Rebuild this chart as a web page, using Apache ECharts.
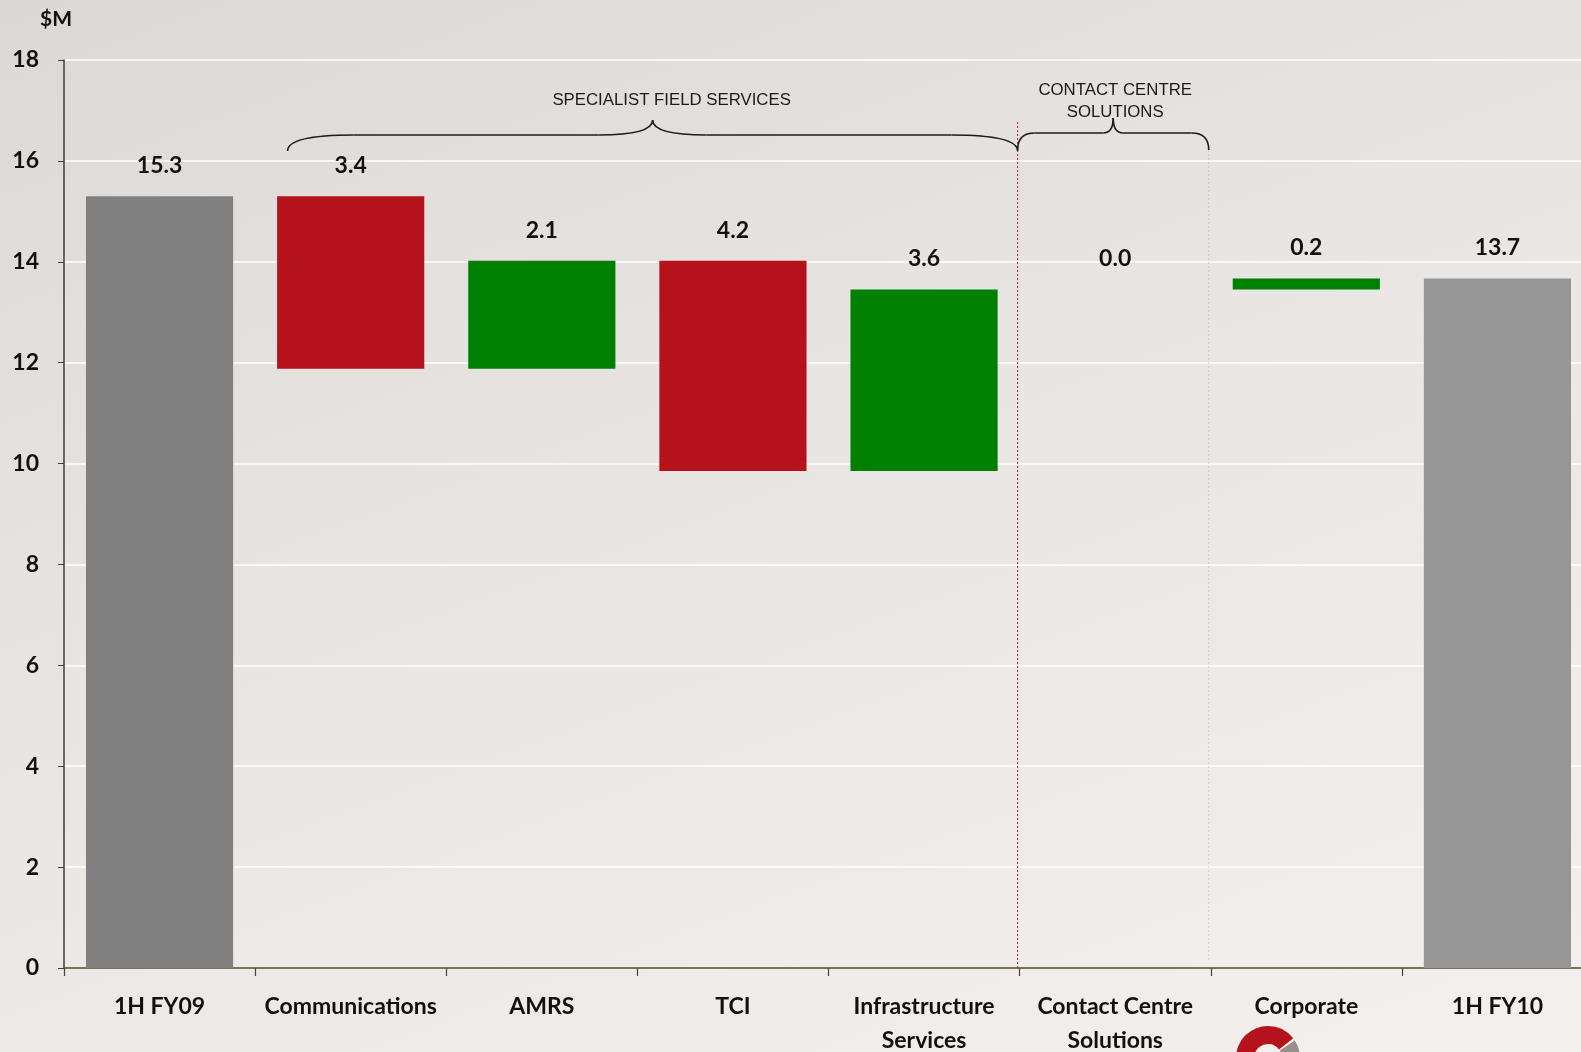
<!DOCTYPE html>
<html>
<head>
<meta charset="utf-8">
<script src="https://cdn.jsdelivr.net/npm/echarts@6/dist/echarts.min.js"></script>
<style>
html,body{margin:0;padding:0;width:100%;height:100%;overflow:hidden;background:#e8e4e2;}
#chart{width:1593px;height:1052px;background:linear-gradient(160deg,#dcd8d5 0%,#e9e5e3 45%,#f3f0ef 100%);}
</style>
</head>
<body>
<div id="chart"></div>
<script>
// ---- data ----
const categories = ['1H FY09', 'Communications', 'AMRS', 'TCI', 'Infrastructure\nServices', 'Contact Centre\nSolutions', 'Corporate', '1H FY10'];
const startTotal = 15.3;
const changes = [-3.42, 2.14, -4.17, 3.60, 0.00, 0.22]; // Communications .. Corporate
const yMin = 0, yMax = 18, yStep = 2;
const groupNames = ['SPECIALIST FIELD SERVICES', 'CONTACT CENTRE\nSOLUTIONS'];
const yUnit = '$M';

// ---- build waterfall ----
const base = [0], height = [startTotal], kind = ['start'];
let run = startTotal;
changes.forEach(d => {
  const next = run + d;
  base.push(Math.min(run, next));
  height.push(Math.abs(d));
  kind.push(d < 0 ? 'down' : 'up');
  run = next;
});
base.push(0); height.push(run); kind.push('end');
const colorOf = {start: '#808080', end: '#969696', down: '#B5121B', up: '#008000'};

const chart = echarts.init(document.getElementById('chart'), null, {renderer: 'canvas'});
const FONT = 'Lato, "Open Sans", sans-serif';

chart.setOption({
  backgroundColor: 'transparent',
  animation: false,
  grid: {left: 64, right: 0, top: 60, bottom: 84, containLabel: false, outerBoundsMode: 'none'},
  xAxis: {
    type: 'category',
    data: categories,
    axisLine: {show: true, lineStyle: {color: '#4a4a1c', width: 1.5}},
    axisTick: {show: true, length: 8, interval: 0, lineStyle: {color: '#4a4a1c', width: 1.2}},
    axisLabel: {interval: 0, margin: 22, fontFamily: FONT, fontWeight: 'bold', fontSize: 23, lineHeight: 34, color: '#111'},
    splitLine: {show: false}
  },
  yAxis: {
    type: 'value',
    min: yMin, max: yMax, interval: yStep,
    name: yUnit,
    nameLocation: 'end',
    nameGap: 30,
    nameTextStyle: {fontFamily: FONT, fontWeight: 'bold', fontSize: 21, color: '#111', align: 'center', padding: [0, 0, 0, -16]},
    axisLine: {show: true, lineStyle: {color: '#3c3c3c', width: 1.5}},
    axisTick: {show: true, length: 6, lineStyle: {color: '#3c3c3c'}},
    axisLabel: {margin: 25, fontFamily: FONT, fontWeight: 'bold', fontSize: 23, color: '#111'},
    splitLine: {show: true, lineStyle: {color: '#ffffff', width: 1.5}}
  },
  series: [
    {
      type: 'bar', stack: 'w', silent: true, barCategoryGap: '23%',
      itemStyle: {color: 'rgba(0,0,0,0)'},
      data: base
    },
    {
      type: 'bar', stack: 'w', barCategoryGap: '23%',
      data: height.map((v, i) => ({value: v, itemStyle: {color: colorOf[kind[i]]}})),
      label: {
        show: true, position: 'top', distance: 19,
        formatter: p => Number(p.value).toFixed(1),
        fontFamily: FONT, fontWeight: 'bold', fontSize: 23, color: '#111'
      }
    }
  ]
});

// ---- annotations (braces, separators, logo) positioned from the axes ----
function cx(i) { return chart.convertToPixel({xAxisIndex: 0}, i); }
const band = cx(1) - cx(0);
function edge(k) { return cx(k) - band / 2; }  // left edge of category k
const yTop = chart.convertToPixel({yAxisIndex: 0}, yMax);
const y0 = chart.convertToPixel({yAxisIndex: 0}, yMin);

const braceStyle = {stroke: '#1c1c1c', lineWidth: 1.6, fill: null};
function braceEls(xL, xR, yEnd, yFlat, yPeak, h, m) {
  const xM = (xL + xR) / 2;
  const s = () => Object.assign({}, braceStyle);
  return [
    {type: 'bezierCurve', shape: {x1: xL, y1: yEnd, cpx1: xL, cpy1: yFlat, x2: xL + h, y2: yFlat}, style: s(), z: 10},
    {type: 'line', shape: {x1: xL + h, y1: yFlat, x2: xM - m, y2: yFlat}, style: s(), z: 10},
    {type: 'bezierCurve', shape: {x1: xM - m, y1: yFlat, cpx1: xM, cpy1: yFlat, x2: xM, y2: yPeak}, style: s(), z: 10},
    {type: 'bezierCurve', shape: {x1: xM, y1: yPeak, cpx1: xM, cpy1: yFlat, x2: xM + m, y2: yFlat}, style: s(), z: 10},
    {type: 'line', shape: {x1: xM + m, y1: yFlat, x2: xR - h, y2: yFlat}, style: s(), z: 10},
    {type: 'bezierCurve', shape: {x1: xR - h, y1: yFlat, cpx1: xR, cpy1: yFlat, x2: xR, y2: yEnd}, style: s(), z: 10}
  ];
}

const b1L = edge(1) + 0.17 * band, b1R = edge(5) - 2;
const b2L = edge(5) - 2, b2R = edge(6) - 2;
const yPeak = yTop + 60, yFlat = yTop + 75, yEnd = yTop + 91;
const GFONT = '16.8px "Liberation Sans", Arial, sans-serif';

const graphics = [].concat(
  braceEls(b1L, b1R, yEnd, yFlat, yPeak, 66, 54),
  braceEls(b2L, b2R, yEnd - 1, yFlat - 2, yPeak - 2, 17, 10),
  [
    {type: 'text', x: (b1L + b1R) / 2 + 19, y: yTop + 40,
      style: {text: groupNames[0], font: GFONT, fill: '#1a1a1a', align: 'center', verticalAlign: 'middle'}, z: 10},
    {type: 'text', x: (b2L + b2R) / 2 + 2, y: yTop + 41,
      style: {text: groupNames[1], font: GFONT, fill: '#1a1a1a', lineHeight: 22, align: 'center', verticalAlign: 'middle'}, z: 10},
    {type: 'line', shape: {x1: b1R, y1: yTop + 62, x2: b1R, y2: y0}, style: {stroke: '#c8102e', lineWidth: 1, lineDash: [2, 2]}, z: 5},
    {type: 'line', shape: {x1: b2R, y1: yTop + 90, x2: b2R, y2: y0 - 6}, style: {stroke: 'rgba(215,150,160,0.4)', lineWidth: 1.2, lineDash: [2, 2]}, z: 5},
    // logo fragment at the bottom edge
    {type: 'sector', shape: {cx: 1268, cy: 1058, r: 32, r0: 14, startAngle: -Math.PI, endAngle: -38 * Math.PI / 180, clockwise: true},
      style: {fill: '#B5121B'}, z: 10},
    {type: 'sector', shape: {cx: 1268, cy: 1058, r: 32, r0: 14, startAngle: -33 * Math.PI / 180, endAngle: 0, clockwise: true},
      style: {fill: '#9a8f88'}, z: 10}
  ]
);
chart.setOption({graphic: graphics});
</script>
</body>
</html>
